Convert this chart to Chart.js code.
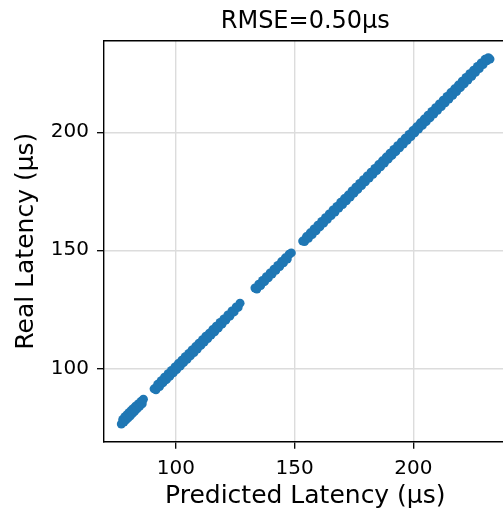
<!DOCTYPE html>
<html>
<head>
<meta charset="utf-8">
<script src="https://cdn.jsdelivr.net/npm/chart.js@4/dist/chart.umd.min.js"></script>
<style>
  html, body { margin: 0; padding: 0; background: #fff; overflow: hidden; }
  #wrap { width: 512px; height: 510px; }
</style>
</head>
<body>
<div id="wrap"><canvas id="c" width="512" height="510"></canvas></div>
<script>
// Predicted latency (x) and real latency (y), in microseconds
const predicted = [
  77.0, 77.6, 78.1, 78.5, 79.0, 79.4, 79.9, 80.3, 80.8, 81.2, 81.7, 82.1, 82.6, 83.0, 83.6, 84.1, 84.7, 85.3, 85.8, 86.3,
  90.8, 91.6, 92.3, 93.1, 93.8, 94.5, 95.2, 96.0, 96.7, 97.4, 98.1, 98.9, 99.6, 100.3, 101.0, 101.8, 102.5, 103.2, 103.9, 104.7,
  105.4, 106.1, 106.8, 107.6, 108.3, 109.0, 109.7, 110.5, 111.2, 111.9, 112.6, 113.4, 114.1, 114.8, 115.5, 116.3, 117.0, 117.8,
  118.6, 119.4, 120.2, 121.0, 121.9, 122.7, 123.6, 124.5, 125.4, 126.2, 127.0,
  133.3, 134.1, 134.9, 135.7, 136.5, 137.3, 138.1, 138.9, 139.7, 140.5, 141.3, 142.1, 142.9, 143.7, 144.5, 145.3, 146.1, 146.9, 147.7, 148.6,
  153.4, 154.2, 155.0, 155.8, 156.6, 157.4, 158.2, 159.0, 159.8, 160.6, 161.4, 162.2, 163.0, 163.8, 164.6, 165.4, 166.2, 167.0, 167.8, 168.6,
  169.4, 170.2, 171.0, 171.8, 172.6, 173.4, 174.2, 175.0, 175.8, 176.6, 177.4, 178.2, 179.0, 179.8, 180.6, 181.4, 182.2, 183.0, 183.8, 184.6,
  185.4, 186.2, 187.0, 187.8, 188.6, 189.4, 190.2, 191.0, 191.8, 192.6, 193.4, 194.2, 195.0, 195.8, 196.6, 197.4, 198.2, 199.0, 199.8, 200.6,
  201.4, 202.2, 203.0, 203.8, 204.6, 205.4, 206.2, 207.0, 207.8, 208.6, 209.4, 210.2, 211.0, 211.8, 212.6, 213.4, 214.2, 215.0, 215.8, 216.6,
  217.4, 218.2, 219.0, 219.8, 220.6, 221.4, 222.2, 223.0, 223.8, 224.6, 225.4, 226.2, 227.0, 227.8, 228.6, 229.4, 230.2, 231.0, 231.6, 232.3
];
const real = [
  76.4, 78.3, 77.2, 79.5, 78.2, 80.4, 79.0, 81.3, 79.9, 82.2, 80.9, 83.0, 81.8, 83.9, 82.8, 84.9, 83.9, 86.0, 85.0, 86.9,
  91.3, 90.9, 93.2, 92.3, 94.7, 93.8, 96.2, 95.2, 97.7, 96.6, 99.1, 98.1, 100.6, 99.5, 102.0, 100.9, 103.4, 102.4, 104.9, 103.8,
  106.3, 105.3, 107.8, 106.7, 109.2, 108.2, 110.6, 109.7, 112.1, 111.1, 113.6, 112.6, 114.9, 114.1, 116.4, 115.5, 117.8, 117.0,
  119.4, 118.7, 120.9, 120.4, 122.6, 122.1, 124.3, 123.9, 126.0, 125.8, 127.6,
  134.0, 133.6, 135.6, 135.1, 137.2, 136.7, 138.8, 138.3, 140.4, 139.9, 142.0, 141.5, 143.6, 143.1, 145.2, 144.7, 146.8, 146.3, 148.3, 148.9,
  153.9, 153.7, 155.8, 155.1, 157.4, 156.7, 159.0, 158.3, 160.6, 159.9, 162.2, 161.5, 163.8, 163.1, 165.4, 164.7, 167.1, 166.2, 168.6, 167.9,
  170.3, 169.4, 171.9, 171.0, 173.4, 172.6, 175.1, 174.2, 176.7, 175.8, 178.3, 177.4, 179.9, 179.0, 181.5, 180.6, 183.1, 182.2, 184.7, 183.8,
  186.3, 185.4, 187.9, 187.0, 189.5, 188.6, 191.1, 190.2, 192.7, 191.8, 194.3, 193.4, 195.9, 195.0, 197.5, 196.6, 199.1, 198.2, 200.7, 199.8,
  202.3, 201.4, 204.0, 202.9, 205.6, 204.5, 207.2, 206.1, 208.8, 207.7, 210.4, 209.3, 212.0, 210.9, 213.6, 212.5, 215.2, 214.1, 216.8, 215.7,
  218.4, 217.3, 220.0, 218.9, 221.6, 220.5, 223.2, 222.1, 224.8, 223.7, 226.3, 225.4, 227.9, 227.0, 229.4, 228.7, 230.9, 230.3, 231.6, 231.0
];
const xTicks = [100, 150, 200];
const yTicks = [100, 150, 200];
const titleText = 'RMSE=0.50μs';
const xLabel = 'Predicted Latency (μs)';
const yLabel = 'Real Latency (μs)';

const points = predicted.map((p, i) => ({ x: p, y: real[i] }));
const FONT = 'DejaVu Sans';

new Chart(document.getElementById('c'), {
  type: 'scatter',
  data: {
    datasets: [{
      data: points,
      backgroundColor: '#1f77b4',
      borderWidth: 0,
      pointRadius: 4.5,
      pointHoverRadius: 4.5
    }]
  },
  options: {
    responsive: false,
    animation: false,
    devicePixelRatio: 1,
    layout: { padding: { left: 0, right: 5.4, top: 0, bottom: 0 } },
    plugins: { legend: { display: false }, tooltip: { enabled: false }, title: { display: false } },
    scales: {
      x: {
        type: 'linear', position: 'bottom', min: 69.7, max: 239.3,
        afterBuildTicks: s => { s.ticks = xTicks.map(v => ({ value: v })); },
        afterFit: s => { s.height = 68.3; },
        grid: { color: '#dcdcdc', lineWidth: 1.4, tickLength: 7, tickColor: '#000', tickWidth: 1.3 },
        border: { display: true, color: '#000', width: 1.4 },
        ticks: { color: '#000', font: { family: FONT, size: 20 }, padding: 7.6, maxRotation: 0 },
        title: { display: true, text: xLabel, color: '#000', font: { family: FONT, size: 25 }, padding: { top: 0, bottom: -1 } }
      },
      x2: {
        type: 'linear', position: 'top', min: 69.7, max: 239.3,
        afterFit: s => { s.height = 40.7; },
        grid: { display: false, drawTicks: false },
        border: { display: true, color: '#000', width: 1.4 },
        ticks: { display: false },
        title: { display: true, text: titleText, color: '#000', font: { family: FONT, size: 24 }, padding: { top: 7.3, bottom: 0 } }
      },
      y: {
        type: 'linear', position: 'left', min: 68.9, max: 238.8,
        afterBuildTicks: s => { s.ticks = yTicks.map(v => ({ value: v })); },
        afterFit: s => { s.width = 104; },
        grid: { color: '#dcdcdc', lineWidth: 1.4, tickLength: 7, tickColor: '#000', tickWidth: 1.3 },
        border: { display: true, color: '#000', width: 1.4 },
        ticks: { color: '#000', font: { family: FONT, size: 20 }, padding: 8 },
        title: { display: true, text: yLabel, color: '#000', font: { family: FONT, size: 25 }, padding: { top: 11, bottom: 0 } }
      }
    }
  }
});
</script>
</body>
</html>
